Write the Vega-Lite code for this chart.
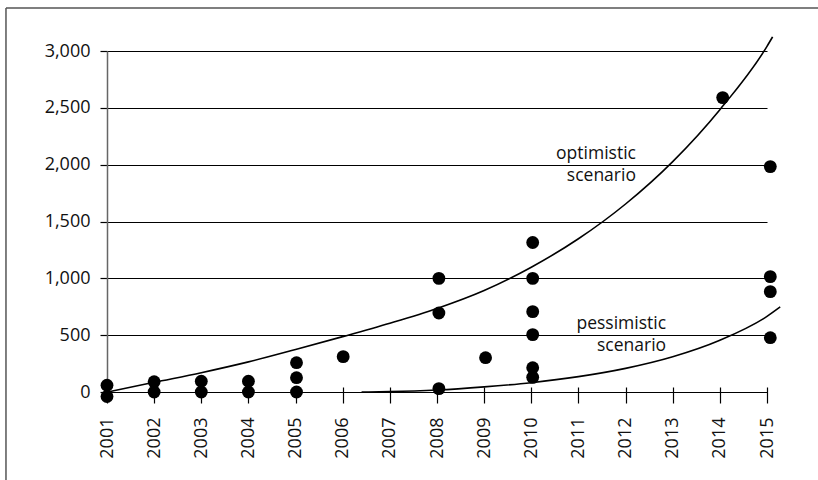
{
  "$schema": "https://vega.github.io/schema/vega-lite/v6.json",
  "autosize": {"type": "none"},
  "width": 660,
  "height": 341,
  "padding": {"left": 107, "top": 51, "right": 51, "bottom": 88},
  "background": "white",
  "config": {
    "view": {"stroke": null},
    "font": "Open Sans",
    "axis": {"labelFont": "Open Sans", "labelColor": "#111", "labelFontSize": 18}
  },
  "datasets": {
    "points": [
      {"year": 2001, "value": 60}, {"year": 2001, "value": -40},
      {"year": 2002, "value": 90}, {"year": 2002, "value": 0},
      {"year": 2003, "value": 95}, {"year": 2003, "value": 0},
      {"year": 2004, "value": 95}, {"year": 2004, "value": 0},
      {"year": 2005.02, "value": 258}, {"year": 2005.02, "value": 126}, {"year": 2005.02, "value": 0},
      {"year": 2006.01, "value": 311},
      {"year": 2008.04, "value": 1000}, {"year": 2008.04, "value": 695}, {"year": 2008.04, "value": 30},
      {"year": 2009.03, "value": 302},
      {"year": 2010.03, "value": 1315}, {"year": 2010.03, "value": 1000}, {"year": 2010.03, "value": 707},
      {"year": 2010.03, "value": 505}, {"year": 2010.03, "value": 214}, {"year": 2010.03, "value": 129},
      {"year": 2014.06, "value": 2590},
      {"year": 2015.07, "value": 1983}, {"year": 2015.07, "value": 1015}, {"year": 2015.07, "value": 883}, {"year": 2015.07, "value": 478}
    ],
    "curves": [
      {"scenario": "optimistic", "year": 2001.02, "value": 0},
      {"scenario": "optimistic", "year": 2002, "value": 85},
      {"scenario": "optimistic", "year": 2003, "value": 170},
      {"scenario": "optimistic", "year": 2004, "value": 265},
      {"scenario": "optimistic", "year": 2005, "value": 374},
      {"scenario": "optimistic", "year": 2006, "value": 487},
      {"scenario": "optimistic", "year": 2007, "value": 605},
      {"scenario": "optimistic", "year": 2008, "value": 735},
      {"scenario": "optimistic", "year": 2009, "value": 893},
      {"scenario": "optimistic", "year": 2010, "value": 1098},
      {"scenario": "optimistic", "year": 2011, "value": 1348},
      {"scenario": "optimistic", "year": 2012, "value": 1654},
      {"scenario": "optimistic", "year": 2013, "value": 2027},
      {"scenario": "optimistic", "year": 2014, "value": 2484},
      {"scenario": "optimistic", "year": 2015, "value": 3041},
      {"scenario": "optimistic", "year": 2015.12, "value": 3125},
      {"scenario": "pessimistic", "year": 2006.4, "value": 0},
      {"scenario": "pessimistic", "year": 2007, "value": 3},
      {"scenario": "pessimistic", "year": 2008, "value": 17},
      {"scenario": "pessimistic", "year": 2009, "value": 45},
      {"scenario": "pessimistic", "year": 2010, "value": 82},
      {"scenario": "pessimistic", "year": 2011, "value": 135},
      {"scenario": "pessimistic", "year": 2012, "value": 208},
      {"scenario": "pessimistic", "year": 2013, "value": 310},
      {"scenario": "pessimistic", "year": 2014, "value": 455},
      {"scenario": "pessimistic", "year": 2015, "value": 665},
      {"scenario": "pessimistic", "year": 2015.28, "value": 748}
    ]
  },
  "layer": [
    {
      "data": {"values": [{}]},
      "mark": {"type": "rule", "color": "#555", "strokeWidth": 1.5, "clip": false},
      "encoding": {
        "x": {"datum": 1998.857, "type": "quantitative", "scale": {"domain": [2001, 2015], "nice": false, "zero": false}},
        "x2": {"datum": 2025},
        "y": {"datum": 3378, "type": "quantitative", "scale": {"domain": [0, 3000], "nice": false, "zero": false}}
      }
    },
    {
      "data": {"values": [{}]},
      "mark": {"type": "rule", "color": "#555", "strokeWidth": 1.5, "clip": false},
      "encoding": {
        "x": {"datum": 1998.857, "type": "quantitative"},
        "y": {"datum": 3378, "type": "quantitative"},
        "y2": {"datum": -1500}
      }
    },
    {
      "data": {"name": "curves"},
      "mark": {"type": "line", "color": "black", "strokeWidth": 1.6, "interpolate": "monotone", "clip": false},
      "encoding": {
        "x": {
          "field": "year", "type": "quantitative",
          "scale": {"domain": [2001, 2015], "nice": false, "zero": false},
          "axis": {
            "title": null, "values": [2001,2002,2003,2004,2005,2006,2007,2008,2009,2010,2011,2012,2013,2014,2015],
            "format": "d", "labelAngle": -90, "domain": false, "grid": false,
            "offset": -5, "tickSize": 16, "tickColor": "black", "tickWidth": 1.2,
            "labelPadding": 14
          }
        },
        "y": {
          "field": "value", "type": "quantitative",
          "scale": {"domain": [0, 3000], "nice": false, "zero": false},
          "axis": {
            "title": null, "values": [0,500,1000,1500,2000,2500,3000], "format": ",d",
            "domainColor": "#666", "domainWidth": 1.5,
            "grid": true, "gridColor": "black", "gridWidth": 1.2, "gridOpacity": 1,
            "tickSize": 7, "tickColor": "black", "tickWidth": 1.2, "labelPadding": 10
          }
        },
        "detail": {"field": "scenario"}
      }
    },
    {
      "data": {"name": "points"},
      "mark": {"type": "circle", "color": "black", "opacity": 1, "size": 165, "clip": false},
      "encoding": {
        "x": {"field": "year", "type": "quantitative"},
        "y": {"field": "value", "type": "quantitative"}
      }
    },
    {
      "data": {"values": [{}]},
      "mark": {"type": "text", "text": ["optimistic", "scenario"], "align": "right", "baseline": "middle", "fontSize": 17.5, "lineHeight": 22, "color": "#111"},
      "encoding": {
        "x": {"datum": 2012.22, "type": "quantitative"},
        "y": {"datum": 2094, "type": "quantitative"}
      }
    },
    {
      "data": {"values": [{}]},
      "mark": {"type": "text", "text": ["pessimistic", "scenario"], "align": "right", "baseline": "middle", "fontSize": 17.5, "lineHeight": 22, "color": "#111"},
      "encoding": {
        "x": {"datum": 2012.86, "type": "quantitative"},
        "y": {"datum": 598, "type": "quantitative"}
      }
    }
  ]
}
